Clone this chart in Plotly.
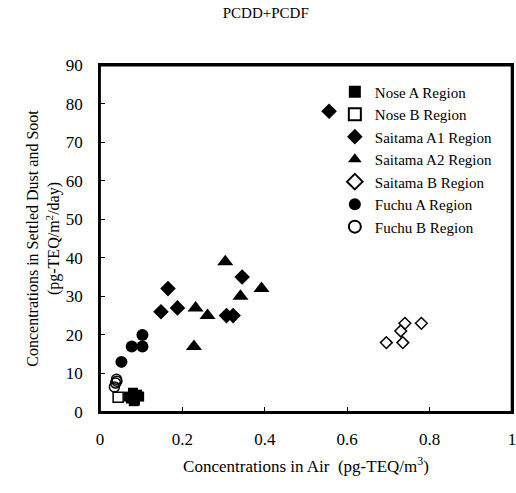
import plotly.graph_objects as go

nose_a_x = [0.070, 0.080, 0.085, 0.090, 0.075, 0.095, 0.082]
nose_a_y = [4.0, 5.0, 3.0, 4.5, 3.5, 4.0, 2.8]
nose_b_x = [0.044]
nose_b_y = [3.8]
saitama_a1_x = [0.165, 0.148, 0.188, 0.345, 0.307, 0.323, 0.556]
saitama_a1_y = [32, 26, 27, 35, 25, 25, 78]
saitama_a2_x = [0.304, 0.341, 0.392, 0.232, 0.261, 0.228]
saitama_a2_y = [39, 30, 32, 27, 25, 17]
saitama_b_x = [0.695, 0.735, 0.730, 0.740, 0.780]
saitama_b_y = [18, 18, 21, 23, 23]
fuchu_a_x = [0.103, 0.103, 0.077, 0.052]
fuchu_a_y = [20, 17, 17, 13]
fuchu_b_x = [0.040, 0.038, 0.035, 0.041]
fuchu_b_y = [8.5, 7.5, 6.5, 8.0]

x_tickvals = [0, 0.2, 0.4, 0.6, 0.8, 1]
x_ticktext = ["0", "0.2", "0.4", "0.6", "0.8", "1"]
y_tickvals = [0, 10, 20, 30, 40, 50, 60, 70, 80, 90]

FONT = "Liberation Serif, Times New Roman, serif"

series = [
    ("Nose A Region", nose_a_x, nose_a_y, "square", 10),
    ("Nose B Region", nose_b_x, nose_b_y, "square-open", 10),
    ("Saitama A1 Region", saitama_a1_x, saitama_a1_y, "diamond", 12),
    ("Saitama A2 Region", saitama_a2_x, saitama_a2_y, "triangle-up", 14),
    ("Saitama B Region", saitama_b_x, saitama_b_y, "diamond-open", 9),
    ("Fuchu A Region", fuchu_a_x, fuchu_a_y, "circle", 12),
    ("Fuchu B Region", fuchu_b_x, fuchu_b_y, "circle-open", 10),
]

fig = go.Figure()
for name, xs, ys, sym, size in series:
    fig.add_trace(go.Scatter(
        x=xs, y=ys, mode="markers", name=name,
        marker=dict(symbol=sym, color="black", size=size,
                    line=dict(color="black", width=1.5 if "open" in sym else 0)),
    ))

# plot-area frame
fig.add_shape(type="rect", xref="paper", yref="paper", x0=0, x1=0.999, y0=0, y1=0.998,
              line=dict(color="black", width=1.8), layer="above")

fig.update_layout(
    width=516, height=493,
    margin=dict(l=100, r=4, t=65, b=81, autoexpand=False),
    paper_bgcolor="white", plot_bgcolor="white",
    font=dict(family=FONT, size=16, color="black"),
    title=dict(text="PCDD+PCDF", x=0.515, xanchor="center", y=0.974, yanchor="middle",
               font=dict(family=FONT, size=15, color="black")),
    showlegend=True,
    legend=dict(x=0.57, y=0.97, xanchor="left", yanchor="top",
                bgcolor="rgba(0,0,0,0)", font=dict(family=FONT, size=15),
                itemsizing="constant", itemwidth=30, tracegroupgap=0),
    xaxis=dict(range=[0, 1], tickvals=x_tickvals, ticktext=x_ticktext,
               ticks="inside", ticklen=5, tickcolor="black",
               tickfont=dict(family=FONT, size=17), ticklabeloverflow="allow",
               showline=True, linecolor="black", linewidth=1.5, mirror=True,
               showgrid=False, zeroline=False, ticklabelstandoff=11, automargin=False,
               title=dict(text="Concentrations in Air  (pg-TEQ/m<sup>3</sup>)",
                          font=dict(family=FONT, size=17), standoff=12)),
    yaxis=dict(range=[0, 90], tickvals=y_tickvals,
               ticks="inside", ticklen=5, tickcolor="black",
               tickfont=dict(family=FONT, size=17), ticklabeloverflow="allow",
               showline=True, linecolor="black", linewidth=1.5, mirror=True,
               showgrid=False, zeroline=False, ticklabelstandoff=12, automargin=False,
               title=dict(text="Concentrations in Settled Dust and Soot<br>(pg-TEQ/m<sup>2</sup>/day)",
                          font=dict(family=FONT, size=16), standoff=2)),
)

fig.write_html("out.html", config={"displayModeBar": False},
               post_script="document.body.style.margin='0px';document.body.style.overflow='hidden';")
